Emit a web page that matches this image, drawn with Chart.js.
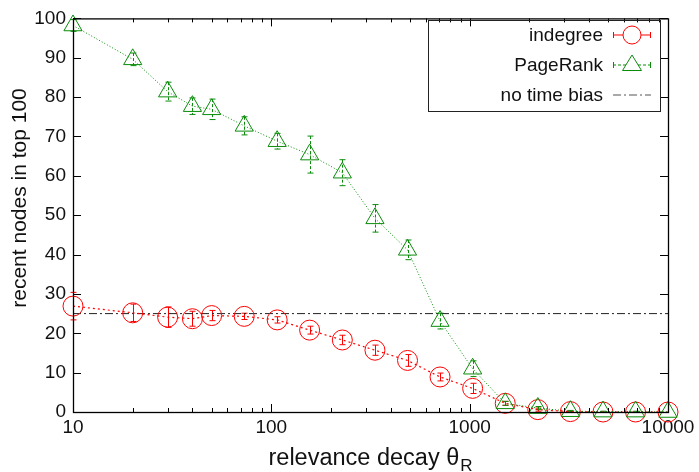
<!DOCTYPE html>
<html>
<head>
<meta charset="utf-8">
<script src="https://cdn.jsdelivr.net/npm/chart.js@4"></script>
<style>
  html, body { margin: 0; padding: 0; background: #fff; }
  #wrap { width: 699px; height: 472px; }
</style>
</head>
<body>
<div id="wrap"><canvas id="chart" width="699" height="472"></canvas></div>
<script>
// relevance decay values (x) and measured counts
const theta = [10, 20, 30, 40, 50, 73, 107, 156, 228, 333, 486, 709, 1035, 1511, 2206, 3220, 4701, 6862, 10000];
const indegree = [26.9, 25.2, 24.1, 23.7, 24.5, 24.3, 23.4, 20.8, 18.3, 15.7, 13.1, 8.9, 6.0, 2.2, 0.6, 0.1, 0, 0, 0];
const indegreeErr = [3.5, 2.2, 2.6, 1.9, 1.3, 0.8, 0.8, 1.0, 1.2, 1.3, 1.5, 1.0, 1.3, 0.5, 0.4, 0.1, 0, 0, 0];
const pagerank = [98.2, 89.6, 81.4, 77.7, 76.9, 72.7, 68.8, 65.4, 60.8, 49.2, 41.2, 23.1, 11.0, 2.2, 1.0, 0.2, 0.1, 0.1, 0];
const pagerankErr = [1.5, 1.6, 2.4, 2.1, 2.6, 2.3, 2.0, 4.7, 3.3, 3.5, 2.5, 2.0, 2.0, 0.5, 0.4, 0.2, 0.1, 0.1, 0];
const noBias = 25;
const xTicks = [10, 100, 1000, 10000];
const yTicks = [0, 10, 20, 30, 40, 50, 60, 70, 80, 90, 100];

const RED = "#ff0000";
const GREEN = "#0a8c0a";
const FONT = "'Liberation Sans', Arial, sans-serif";
const TXT = "#111";

function pts(ys) {
  return theta.map((x, i) => ({ x: x, y: ys[i] }));
}

// error bars, inward ticks, frame, legend and axis titles
const frame = {
  id: "frame",
  beforeDatasetsDraw(chart) {
    const ctx = chart.ctx;
    const xs = chart.scales.x, ys = chart.scales.y;
    const bars = [
      { vals: indegree, err: indegreeErr, color: RED, dash: [] },
      { vals: pagerank, err: pagerankErr, color: GREEN, dash: [3, 2] },
    ];
    ctx.save();
    ctx.lineWidth = 1;
    for (const b of bars) {
      ctx.strokeStyle = b.color;
      theta.forEach((t, i) => {
        if (b.err[i] <= 0) return;
        const px = Math.round(xs.getPixelForValue(t)) + 0.5;
        const y1 = ys.getPixelForValue(b.vals[i] + b.err[i]);
        const y2 = ys.getPixelForValue(Math.max(0, b.vals[i] - b.err[i]));
        ctx.setLineDash(b.dash);
        ctx.beginPath();
        ctx.moveTo(px, y1);
        ctx.lineTo(px, y2);
        ctx.stroke();
        ctx.setLineDash([]);
        ctx.beginPath();
        ctx.moveTo(px - 3, y1); ctx.lineTo(px + 3, y1);
        ctx.moveTo(px - 3, y2); ctx.lineTo(px + 3, y2);
        ctx.stroke();
      });
    }
    ctx.restore();
  },
  afterDraw(chart) {
    const ctx = chart.ctx;
    const a = chart.chartArea;
    const xs = chart.scales.x, ys = chart.scales.y;
    ctx.save();
    ctx.strokeStyle = "#000";
    ctx.lineWidth = 1;
    ctx.setLineDash([]);

    // inward ticks
    ctx.beginPath();
    for (let d = 10; d < 10000; d *= 10) {
      for (let m = 1; m < 10; m++) {
        const v = d * m;
        const px = Math.round(xs.getPixelForValue(v)) + 0.5;
        const len = m === 1 ? 8 : 4;
        ctx.moveTo(px, a.bottom); ctx.lineTo(px, a.bottom - len);
        ctx.moveTo(px, a.top); ctx.lineTo(px, a.top + len);
      }
    }
    for (const v of yTicks) {
      const py = Math.round(ys.getPixelForValue(v)) + 0.5;
      ctx.moveTo(a.left, py); ctx.lineTo(a.left + 8, py);
      ctx.moveTo(a.right, py); ctx.lineTo(a.right - 8, py);
    }
    ctx.stroke();

    // frame
    ctx.lineWidth = 1.3;
    ctx.strokeRect(a.left + 0.5, a.top + 0.5, a.right - a.left, a.bottom - a.top);

    // legend
    ctx.lineWidth = 1;
    ctx.strokeStyle = "#222";
    ctx.strokeRect(428.5, 20.5, 232, 91);
    ctx.font = "19px " + FONT;
    ctx.fillStyle = TXT;
    ctx.textAlign = "right";
    ctx.textBaseline = "middle";
    const labels = chart.data.datasets.map(d => d.label);
    const rows = [35, 65, 95];
    const x0 = 613, x1 = 651, xc = 632;
    labels.forEach((lab, i) => ctx.fillText(lab, 603, rows[i] + 1));
    // indegree sample
    ctx.strokeStyle = RED;
    ctx.beginPath();
    ctx.moveTo(x0, rows[0]); ctx.lineTo(x1, rows[0]);
    ctx.moveTo(x0 + 0.5, rows[0] - 3); ctx.lineTo(x0 + 0.5, rows[0] + 3);
    ctx.moveTo(x1 - 0.5, rows[0] - 3); ctx.lineTo(x1 - 0.5, rows[0] + 3);
    ctx.stroke();
    ctx.fillStyle = "#fff";
    ctx.beginPath(); ctx.arc(xc, rows[0], 9, 0, Math.PI * 2); ctx.fill(); ctx.stroke();
    // pagerank sample
    ctx.strokeStyle = GREEN;
    ctx.setLineDash([3, 2]);
    ctx.beginPath();
    ctx.moveTo(x0, rows[1]); ctx.lineTo(x1, rows[1]);
    ctx.stroke();
    ctx.setLineDash([]);
    ctx.beginPath();
    ctx.moveTo(x0 + 0.5, rows[1] - 3); ctx.lineTo(x0 + 0.5, rows[1] + 3);
    ctx.moveTo(x1 - 0.5, rows[1] - 3); ctx.lineTo(x1 - 0.5, rows[1] + 3);
    ctx.stroke();
    ctx.beginPath();
    ctx.moveTo(xc, rows[1] - 10);
    ctx.lineTo(xc + 9.5, rows[1] + 5.5);
    ctx.lineTo(xc - 9.5, rows[1] + 5.5);
    ctx.closePath();
    ctx.fill(); ctx.stroke();
    // no time bias sample
    ctx.strokeStyle = "#555";
    ctx.setLineDash([8, 3, 2, 3]);
    ctx.beginPath();
    ctx.moveTo(x0, rows[2]); ctx.lineTo(x1, rows[2]);
    ctx.stroke();
    ctx.setLineDash([]);

    // axis titles
    ctx.fillStyle = TXT;
    ctx.font = "21px " + FONT;
    ctx.textAlign = "center";
    ctx.textBaseline = "middle";
    ctx.save();
    ctx.translate(20, 198);
    ctx.rotate(-Math.PI / 2);
    ctx.fillText("recent nodes in top 100", 0, 0);
    ctx.restore();

    const main = "relevance decay \u03B8";
    ctx.font = "23.5px " + FONT;
    const w1 = ctx.measureText(main).width;
    ctx.font = "17px " + FONT;
    const w2 = ctx.measureText("R").width;
    const cx = 370;
    const start = cx - (w1 + w2) / 2;
    ctx.textAlign = "left";
    ctx.textBaseline = "alphabetic";
    ctx.font = "23.5px " + FONT;
    ctx.fillText(main, start, 465);
    ctx.font = "17px " + FONT;
    ctx.fillText("R", start + w1 + 1, 471);
    ctx.restore();
  }
};

const ctx = document.getElementById("chart").getContext("2d");
const chart = new Chart(ctx, {
  type: "line",
  data: {
    datasets: [
      {
        label: "indegree",
        data: pts(indegree),
        borderColor: RED,
        backgroundColor: "rgba(0,0,0,0)",
        borderWidth: 1.2,
        borderDash: [2, 3],
        pointStyle: "circle",
        pointRadius: 10,
        pointBorderWidth: 1,
        pointBorderColor: RED,
        pointBackgroundColor: "rgba(0,0,0,0)",
        clip: false,
        order: 1,
      },
      {
        label: "PageRank",
        data: pts(pagerank),
        borderColor: GREEN,
        backgroundColor: "rgba(0,0,0,0)",
        borderWidth: 1,
        borderDash: [1, 2],
        pointStyle: "triangle",
        pointRadius: 10.5,
        pointBorderWidth: 1,
        pointBorderColor: GREEN,
        pointBackgroundColor: "rgba(0,0,0,0)",
        clip: false,
        order: 0,
      },
      {
        label: "no time bias",
        data: [{ x: theta[0], y: noBias }, { x: theta[theta.length - 1], y: noBias }],
        borderColor: "#222",
        borderWidth: 1,
        borderDash: [8, 3, 2, 3],
        pointRadius: 0,
        clip: false,
        order: 2,
      },
    ],
  },
  options: {
    responsive: false,
    animation: false,
    layout: { padding: { left: 0, right: 31, top: 14, bottom: 0 } },
    plugins: { legend: { display: false }, tooltip: { enabled: false } },
    scales: {
      x: {
        type: "logarithmic",
        min: 10,
        max: 10000,
        grid: { display: false, drawTicks: false },
        border: { display: false },
        afterBuildTicks: (s) => { s.ticks = xTicks.map(v => ({ value: v })); },
        afterFit: (s) => { s.height = 60; },
        ticks: {
          padding: 4,
          autoSkip: false,
          maxRotation: 0,
          color: TXT,
          font: { family: FONT, size: 19 },
          callback: (v) => String(v),
        },
      },
      y: {
        min: 0,
        max: 100,
        grid: { display: false, drawTicks: false },
        border: { display: false },
        afterBuildTicks: (s) => { s.ticks = yTicks.map(v => ({ value: v })); },
        afterFit: (s) => { s.width = 73; },
        ticks: {
          padding: 7,
          color: TXT,
          font: { family: FONT, size: 19 },
          callback: (v) => String(v),
        },
      },
    },
  },
  plugins: [frame],
});
</script>
</body>
</html>
